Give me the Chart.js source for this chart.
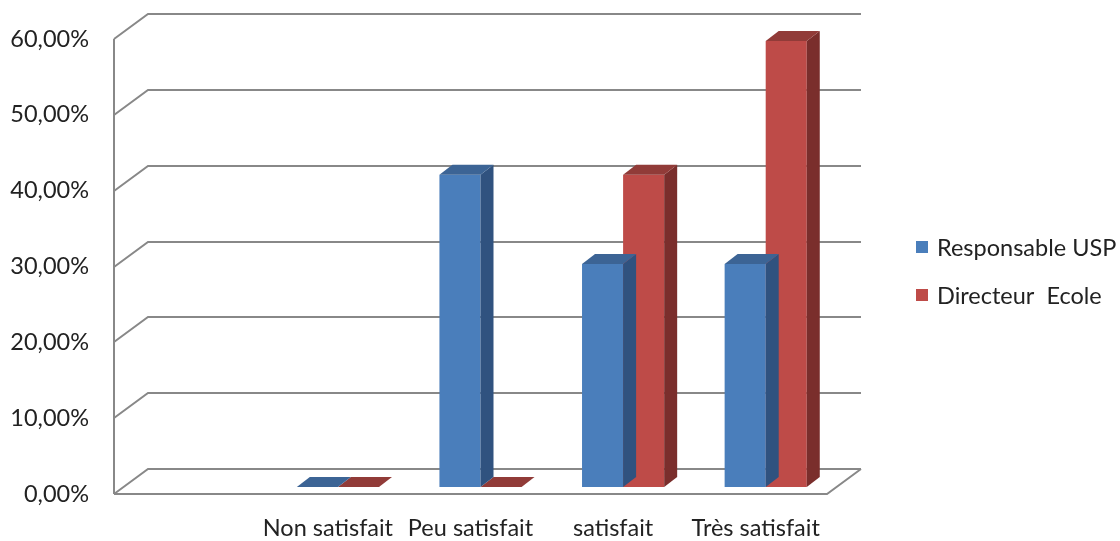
<!DOCTYPE html>
<html>
<head>
<meta charset="utf-8">
<title>Satisfaction</title>
<script src="https://cdn.jsdelivr.net/npm/chart.js@4.4.1/dist/chart.umd.min.js"></script>
<style>
  html, body { margin: 0; padding: 0; background: #ffffff; }
  #wrap { width: 1120px; height: 541px; position: relative; }
</style>
</head>
<body>
<div id="wrap"><canvas id="chart" width="1120" height="541"></canvas></div>
<script>
// Categories (the first slot is an empty category on the left of the axis)
const categories = ['', 'Non satisfait', 'Peu satisfait', 'satisfait', 'Très satisfait'];

// Series values, in percent
const responsableUSP = [null, 0, 41.18, 29.41, 29.41];
const directeurEcole = [null, 0, 0, 41.18, 58.82];

// Series names
const seriesNames = ['Responsable USP', 'Directeur  Ecole'];

// Value axis
const yMin = 0;
const yMax = 60;
const yStep = 10;

const FONT = 'Lato, "Open Sans", sans-serif';
const FONT_SIZE = 23.5;
const TEXT = '#222222';
const WALL = '#888888';

// Depth of the 3-D box and of the bars
const WALL_DEPTH = { x: 34, y: -25 };
const BAR_SHIFT = { x: 10, y: -7 };
const BAR_DEPTH = { x: 13, y: -10 };

const palette = [
  { front: '#4a7ebb', side: '#30527f', top: '#3c6495' },
  { front: '#be4b48', side: '#7a2e2c', top: '#913b38' }
];

function pct(v) {
  return v.toFixed(2).replace('.', ',') + '%';
}

const box3d = {
  id: 'box3d',
  beforeDatasetsDraw(chart) {
    const { ctx, chartArea: a, scales: { y } } = chart;
    ctx.save();
    ctx.strokeStyle = WALL;
    ctx.lineWidth = 2;
    ctx.lineJoin = 'miter';
    // back wall grid lines with their diagonals on the side wall
    y.ticks.forEach(t => {
      const py = Math.round(y.getPixelForValue(t.value));
      ctx.beginPath();
      ctx.moveTo(a.left, py);
      ctx.lineTo(a.left + WALL_DEPTH.x, py + WALL_DEPTH.y);
      ctx.lineTo(a.right + WALL_DEPTH.x, py + WALL_DEPTH.y);
      ctx.stroke();
    });
    // side wall front edge
    ctx.beginPath();
    ctx.moveTo(a.left, Math.round(y.getPixelForValue(yMax)));
    ctx.lineTo(a.left, a.bottom);
    ctx.stroke();
    // floor front edge and right edge
    ctx.beginPath();
    ctx.moveTo(a.left, a.bottom);
    ctx.lineTo(a.right, a.bottom);
    ctx.lineTo(a.right + WALL_DEPTH.x, a.bottom + WALL_DEPTH.y);
    ctx.stroke();
    ctx.restore();

    // bars stand part-way into the box
    ctx.save();
    ctx.translate(BAR_SHIFT.x, BAR_SHIFT.y);
  },
  afterDatasetDraw(chart, args) {
    const { ctx } = chart;
    const ds = chart.data.datasets[args.index];
    const col = palette[args.index];
    args.meta.data.forEach((bar, i) => {
      if (ds.data[i] == null) return;
      const { x, y, base, width } = bar.getProps(['x', 'y', 'base', 'width'], true);
      const l = x - width / 2;
      const r = x + width / 2;
      const dx = BAR_DEPTH.x, dy = BAR_DEPTH.y;
      // right side face
      ctx.fillStyle = col.side;
      ctx.beginPath();
      ctx.moveTo(r, y);
      ctx.lineTo(r + dx, y + dy);
      ctx.lineTo(r + dx, base + dy);
      ctx.lineTo(r, base);
      ctx.closePath();
      ctx.fill();
      // top face
      ctx.fillStyle = col.top;
      ctx.beginPath();
      ctx.moveTo(l, y);
      ctx.lineTo(l + dx, y + dy);
      ctx.lineTo(r + dx, y + dy);
      ctx.lineTo(r, y);
      ctx.closePath();
      ctx.fill();
    });
  },
  afterDatasetsDraw(chart) {
    chart.ctx.restore();
  },
  afterDraw(chart) {
    // legend on the right
    const { ctx } = chart;
    const lx = 916, ly = 247, step = 48, sq = 12, gap = 9;
    ctx.save();
    ctx.font = FONT_SIZE + 'px ' + FONT;
    ctx.textBaseline = 'middle';
    ctx.textAlign = 'left';
    chart.data.datasets.forEach((ds, i) => {
      const cy = ly + i * step;
      ctx.fillStyle = ds.backgroundColor;
      ctx.fillRect(lx, cy - sq / 2, sq, sq);
      ctx.fillStyle = TEXT;
      ctx.fillText(ds.label, lx + sq + gap, cy + 1);
    });
    ctx.restore();
  }
};

new Chart(document.getElementById('chart'), {
  type: 'bar',
  data: {
    labels: categories,
    datasets: [
      { label: seriesNames[0], data: responsableUSP, backgroundColor: palette[0].front },
      { label: seriesNames[1], data: directeurEcole, backgroundColor: palette[1].front }
    ]
  },
  options: {
    responsive: false,
    animation: false,
    devicePixelRatio: 1,
    layout: { padding: { top: 38, right: 293, bottom: 0, left: 0 } },
    datasets: {
      bar: { categoryPercentage: 0.576, barPercentage: 1, borderWidth: 0, clip: false }
    },
    plugins: {
      legend: { display: false },
      tooltip: { enabled: false }
    },
    scales: {
      x: {
        grid: { display: false, drawTicks: false },
        border: { display: false },
        ticks: {
          color: TEXT,
          font: { family: FONT, size: FONT_SIZE },
          padding: 20,
          maxRotation: 0,
          autoSkip: false
        },
        afterFit(s) { s.height = 47; }
      },
      y: {
        min: yMin,
        max: yMax,
        grid: { display: false, drawTicks: false },
        border: { display: false },
        ticks: {
          stepSize: yStep,
          color: TEXT,
          font: { family: FONT, size: FONT_SIZE },
          padding: 25,
          callback: v => pct(v)
        },
        afterFit(s) { s.width = 114; }
      }
    }
  },
  plugins: [box3d]
});
</script>
</body>
</html>
